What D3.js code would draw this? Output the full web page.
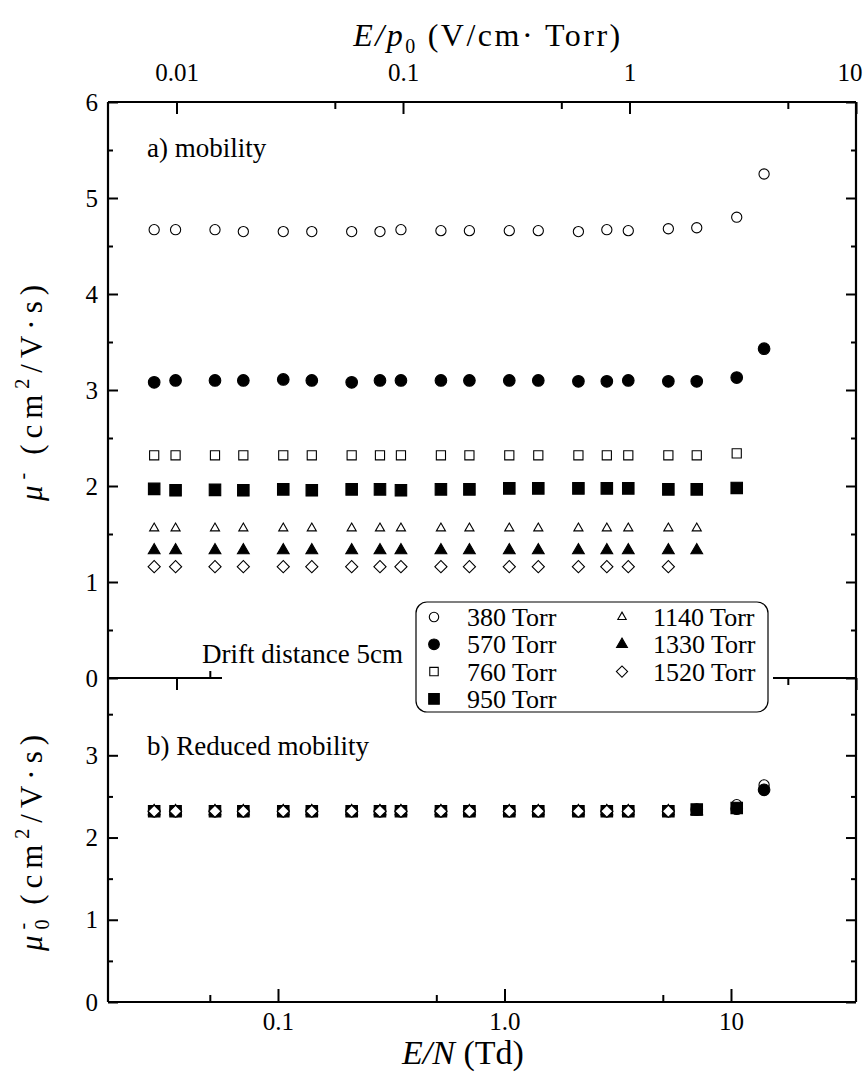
<!DOCTYPE html>
<html><head><meta charset="utf-8">
<script src="https://cdn.jsdelivr.net/npm/d3@7"></script>
<style>
body{margin:0;background:#fff;}
text{font-family:"Liberation Serif","Times New Roman",serif;fill:#000;}
</style></head><body>
<script>
// E/N (Td) of the measured points, same columns for every pressure
const enTd = [0.0284, 0.0353, 0.0527, 0.0703, 0.1055, 0.141, 0.2115, 0.282, 0.349, 0.524,
              0.700, 1.05, 1.41, 2.12, 2.83, 3.52, 5.29, 7.06, 10.6, 14.0];
const pressures = ['380', '570', '760', '950', '1140', '1330', '1520'];

// a) mobility (cm2/V s)
const mu380  = [4.67, 4.67, 4.67, 4.65, 4.65, 4.65, 4.65, 4.65, 4.67, 4.66, 4.66, 4.66, 4.66, 4.65, 4.67, 4.66, 4.68, 4.69, 4.80, 5.25];
const mu570  = [3.08, 3.10, 3.10, 3.10, 3.11, 3.10, 3.08, 3.10, 3.10, 3.10, 3.10, 3.10, 3.10, 3.09, 3.09, 3.10, 3.09, 3.09, 3.13, 3.43];
const mu760  = [2.32, 2.32, 2.32, 2.32, 2.32, 2.32, 2.32, 2.32, 2.32, 2.32, 2.32, 2.32, 2.32, 2.32, 2.32, 2.32, 2.32, 2.32, 2.34];
const mu950  = [1.97, 1.955, 1.96, 1.955, 1.965, 1.955, 1.965, 1.965, 1.955, 1.965, 1.965, 1.975, 1.975, 1.975, 1.975, 1.975, 1.965, 1.965, 1.98];
const mu1140 = [1.56, 1.56, 1.56, 1.56, 1.56, 1.56, 1.56, 1.56, 1.56, 1.56, 1.56, 1.56, 1.56, 1.56, 1.56, 1.56, 1.56, 1.56];
const mu1330 = [1.33, 1.33, 1.33, 1.33, 1.33, 1.33, 1.33, 1.33, 1.33, 1.33, 1.33, 1.33, 1.33, 1.33, 1.33, 1.33, 1.33, 1.33];
const mu1520 = [1.16, 1.16, 1.16, 1.16, 1.16, 1.16, 1.16, 1.16, 1.16, 1.16, 1.16, 1.16, 1.16, 1.16, 1.16, 1.16, 1.16];

// b) reduced mobility (cm2/V s)
const red380  = [2.33, 2.33, 2.33, 2.33, 2.33, 2.33, 2.33, 2.33, 2.33, 2.33, 2.33, 2.33, 2.33, 2.33, 2.33, 2.33, 2.33, 2.34, 2.40, 2.64];
const red570  = [2.32, 2.32, 2.32, 2.32, 2.32, 2.32, 2.32, 2.32, 2.32, 2.32, 2.32, 2.32, 2.32, 2.32, 2.32, 2.32, 2.32, 2.34, 2.35, 2.58];
const red760  = [2.32, 2.32, 2.32, 2.32, 2.32, 2.32, 2.32, 2.32, 2.32, 2.32, 2.32, 2.32, 2.32, 2.32, 2.32, 2.32, 2.32, 2.33, 2.35];
const red950  = [2.32, 2.32, 2.32, 2.32, 2.32, 2.32, 2.32, 2.32, 2.32, 2.32, 2.32, 2.32, 2.32, 2.32, 2.32, 2.32, 2.32, 2.34, 2.36];
const red1140 = [2.32, 2.32, 2.32, 2.32, 2.32, 2.32, 2.32, 2.32, 2.32, 2.32, 2.32, 2.32, 2.32, 2.32, 2.32, 2.32, 2.32, 2.32];
const red1330 = [2.32, 2.32, 2.32, 2.32, 2.32, 2.32, 2.32, 2.32, 2.32, 2.32, 2.32, 2.32, 2.32, 2.32, 2.32, 2.32, 2.32, 2.32];
const red1520 = [2.32, 2.32, 2.32, 2.32, 2.32, 2.32, 2.32, 2.32, 2.32, 2.32, 2.32, 2.32, 2.32, 2.32, 2.32, 2.32, 2.32];

const muSeries = [mu380, mu570, mu760, mu950, mu1140, mu1330, mu1520];
const redSeries = [red380, red570, red760, red950, red1140, red1330, red1520];

const enTicks = [0.1, 1, 10], enMinor = [0.05, 0.5, 5];
const epTicks = [0.01, 0.1, 1, 10], epMinor = [0.05, 0.5, 5];

const W = 863, H = 1081;
const L = 108, R = 856, T = 102, MID = 678, B = 1002;
const EN_MIN = 0.01776, EN_MAX = 35.64;
const K = 10 / EN_MAX; // E/p0 per Td

const x = d3.scaleLog().domain([EN_MIN, EN_MAX]).range([L, R]);
const xTop = d3.scaleLog().domain([EN_MIN * K, EN_MAX * K]).range([L, R]);
const yUp = d3.scaleLinear().domain([0, 6]).range([MID, T]);
const yLo = d3.scaleLinear().domain([0, 3.94]).range([B, MID]);

const markers = {
  '380':  {shape: d3.symbolCircle, size: 82, fill: '#fff'},
  '570':  {shape: d3.symbolCircle, size: 106, fill: '#000'},
  '760':  {shape: d3.symbolSquare, size: 84, fill: '#fff'},
  '950':  {shape: d3.symbolSquare, size: 132, fill: '#000'},
  '1140': {shape: d3.symbolTriangle, size: 36, fill: '#fff'},
  '1330': {shape: d3.symbolTriangle, size: 60, fill: '#000'},
  '1520': {shape: d3.symbolSquare, size: 74, fill: '#fff', rot: 45}
};

const svg = d3.select('body').append('svg').attr('width', W).attr('height', H);

function styleAxis(g) {
  g.select('.domain').remove();
  g.selectAll('.tick line').attr('stroke', '#000').attr('stroke-width', 2);
  g.selectAll('.tick text').attr('font-size', 25).attr('fill', '#000')
    .attr('font-family', '"Liberation Serif","Times New Roman",serif');
}

// top axis: E/p0
svg.append('g').attr('transform', `translate(0,${T})`)
  .call(d3.axisTop(xTop).tickValues(epTicks).tickSize(-12).tickPadding(21)
    .tickFormat(d => d3.format('~g')(d))).call(styleAxis)
  .selectAll('.tick text').filter(d => d === 10).attr('text-anchor', 'end').attr('dx', 6);
svg.append('g').attr('transform', `translate(0,${T})`)
  .call(d3.axisTop(xTop).tickValues(epMinor).tickSize(-7).tickFormat('')).call(styleAxis);

// bottom axis: E/N
svg.append('g').attr('transform', `translate(0,${B})`)
  .call(d3.axisBottom(x).tickValues(enTicks).tickSize(-13).tickPadding(10)
    .tickFormat(d => d === 1 ? '1.0' : d3.format('~g')(d))).call(styleAxis);
svg.append('g').attr('transform', `translate(0,${B})`)
  .call(d3.axisBottom(x).tickValues(enMinor).tickSize(-7).tickFormat('')).call(styleAxis);

// middle line: bottom of a) (E/N ticks up) and top of b) (E/p0 ticks down)
svg.append('g').attr('transform', `translate(0,${MID})`)
  .call(d3.axisBottom(x).tickValues(enTicks).tickSize(-13).tickFormat('')).call(styleAxis);
svg.append('g').attr('transform', `translate(0,${MID})`)
  .call(d3.axisBottom(x).tickValues(enMinor).tickSize(-7).tickFormat('')).call(styleAxis);
svg.append('g').attr('transform', `translate(0,${MID})`)
  .call(d3.axisTop(xTop).tickValues(epTicks).tickSize(-12).tickFormat('')).call(styleAxis);
svg.append('g').attr('transform', `translate(0,${MID})`)
  .call(d3.axisTop(xTop).tickValues(epMinor).tickSize(-7).tickFormat('')).call(styleAxis);

// left / right y axes
function yAxes(scale, majors, minors) {
  svg.append('g').attr('transform', `translate(${L},0)`)
    .call(d3.axisLeft(scale).tickValues(majors).tickSize(-10).tickPadding(10).tickFormat(d3.format('d'))).call(styleAxis);
  svg.append('g').attr('transform', `translate(${L},0)`)
    .call(d3.axisLeft(scale).tickValues(minors).tickSize(-5).tickFormat('')).call(styleAxis);
  svg.append('g').attr('transform', `translate(${R},0)`)
    .call(d3.axisRight(scale).tickValues(majors).tickSize(-10).tickFormat('')).call(styleAxis);
  svg.append('g').attr('transform', `translate(${R},0)`)
    .call(d3.axisRight(scale).tickValues(minors).tickSize(-5).tickFormat('')).call(styleAxis);
}
yAxes(yUp, [0, 1, 2, 3, 4, 5, 6], [0.5, 1.5, 2.5, 3.5, 4.5, 5.5]);
yAxes(yLo, [0, 1, 2, 3], [0.5, 1.5, 2.5, 3.5]);

// frame
const frame = svg.append('g').attr('stroke', '#000').attr('stroke-width', 2.2).attr('fill', 'none');
frame.append('line').attr('x1', L).attr('x2', R).attr('y1', T).attr('y2', T);
frame.append('line').attr('x1', L).attr('x2', R).attr('y1', MID).attr('y2', MID);
frame.append('line').attr('x1', L).attr('x2', R).attr('y1', B).attr('y2', B);
frame.append('line').attr('x1', L).attr('x2', L).attr('y1', T).attr('y2', B);
frame.append('line').attr('x1', R).attr('x2', R).attr('y1', T).attr('y2', B);

// gap in the middle line behind the labels
svg.append('rect').attr('x', 222).attr('y', MID - 15).attr('width', 773 - 222).attr('height', 30).attr('fill', '#fff');

// markers
function drawSeries(g, scaleY, series) {
  series.forEach(function(vals, i) {
    let m = markers[pressures[i]];
    let pts = vals.map((v, j) => ({e: enTd[j], v: v}));
    g.selectAll('.s' + i).data(pts).enter().append('path')
      .attr('class', 's' + i)
      .attr('d', d3.symbol().type(m.shape).size(m.size))
      .attr('transform', d => `translate(${x(d.e)},${scaleY(d.v)})` + (m.rot ? ` rotate(${m.rot})` : ''))
      .attr('fill', m.fill).attr('stroke', '#000').attr('stroke-width', 1.1);
  });
}
drawSeries(svg.append('g'), yUp, muSeries);
drawSeries(svg.append('g'), yLo, redSeries);

// panel texts
svg.append('text').attr('x', 147).attr('y', 157).attr('font-size', 27).text('a) mobility');
svg.append('text').attr('x', 147).attr('y', 755).attr('font-size', 27).text('b) Reduced mobility');
svg.append('text').attr('x', 202).attr('y', 663).attr('font-size', 27).text('Drift distance 5cm');

// legend
const lg = svg.append('g');
lg.append('rect').attr('x', 416).attr('y', 602).attr('width', 352).attr('height', 110)
  .attr('rx', 11).attr('fill', '#fff').attr('stroke', '#000').attr('stroke-width', 1.2);
pressures.forEach(function(p, i) {
  let col = i < 4 ? 0 : 1, row = i < 4 ? i : i - 4;
  let sx = col ? 622 : 434, tx = col ? 653 : 467, ry = 617 + row * 27.3;
  let m = markers[p];
  lg.append('path').attr('d', d3.symbol().type(m.shape).size(m.size * 0.85))
    .attr('transform', `translate(${sx},${ry})` + (m.rot ? ` rotate(${m.rot})` : ''))
    .attr('fill', m.fill).attr('stroke', '#000').attr('stroke-width', 1.1);
  lg.append('text').attr('x', tx).attr('y', ry + 9).attr('font-size', 26).text(p + ' Torr');
});

// axis titles
const tt = svg.append('text').attr('x', 488).attr('y', 46).attr('font-size', 32)
  .attr('text-anchor', 'middle').attr('letter-spacing', 2.5);
tt.append('tspan').attr('font-style', 'italic').text('E/p');
tt.append('tspan').attr('font-size', 20).attr('dy', 7).text('0');
tt.append('tspan').attr('dy', -7).attr('dx', 10).text('(V/cm\u00b7 Torr)');

const bt = svg.append('text').attr('x', 463).attr('y', 1064).attr('font-size', 34).attr('text-anchor', 'middle');
bt.append('tspan').attr('font-style', 'italic').text('E/N');
bt.append('tspan').text(' (Td)');

const yt1 = svg.append('text').attr('transform', `translate(42,${(T + MID) / 2}) rotate(-90)`)
  .attr('font-size', 31).attr('text-anchor', 'middle').attr('letter-spacing', 6);
yt1.append('tspan').attr('font-style', 'italic').text('\u03bc');
yt1.append('tspan').attr('font-size', 20).attr('dy', -13).text('-');
yt1.append('tspan').attr('dy', 13).attr('dx', 12).text('(cm');
yt1.append('tspan').attr('font-size', 20).attr('dy', -13).text('2');
yt1.append('tspan').attr('dy', 13).text('/V\u00b7s)');

const yt2 = svg.append('text').attr('transform', `translate(42,${(MID + B) / 2}) rotate(-90)`)
  .attr('font-size', 31).attr('text-anchor', 'middle').attr('letter-spacing', 6);
yt2.append('tspan').attr('font-style', 'italic').text('\u03bc');
yt2.append('tspan').attr('font-size', 20).attr('dy', 7).text('0');
yt2.append('tspan').attr('font-size', 20).attr('dy', -20).attr('dx', -16).text('-');
yt2.append('tspan').attr('dy', 13).attr('dx', 12).text('(cm');
yt2.append('tspan').attr('font-size', 20).attr('dy', -13).text('2');
yt2.append('tspan').attr('dy', 13).text('/V\u00b7s)');
</script>
</body></html>
